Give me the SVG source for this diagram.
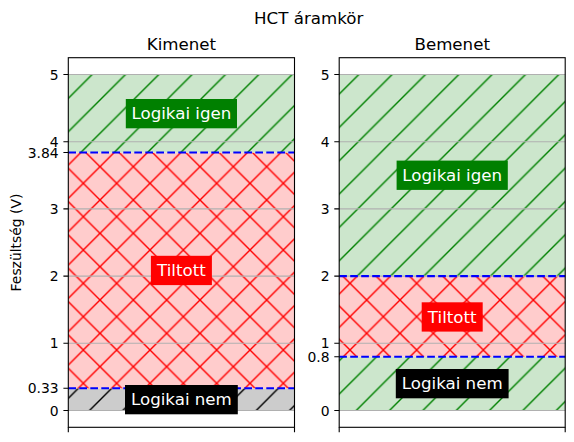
<svg xmlns="http://www.w3.org/2000/svg" width="574" height="442" viewBox="0 0 574 442">
<style>
text{font-family:"DejaVu Sans","Liberation Sans",sans-serif;fill:#000}
.tick{font-size:13.9px;text-anchor:end}
.title{font-size:16.67px;text-anchor:middle}
.lbl{font-size:16.67px;text-anchor:middle;fill:#fff}
.grid{stroke:#b0b0b0;stroke-width:1.1}
.dash{stroke:#0000ff;stroke-width:2.1;stroke-dasharray:7.7 3.3}
.spine{fill:none;stroke:#000;stroke-width:1.1}
.tk{stroke:#000;stroke-width:1.1}
</style>
<defs>
<pattern id="hg" patternUnits="userSpaceOnUse" width="33.333" height="33.333">
<path d="M-5,5L5,-5M-5,38.333L38.333,-5M28.333,38.333L38.333,28.333" stroke="#008000" stroke-width="1.4" fill="none"/>
</pattern>
<pattern id="hk" patternUnits="userSpaceOnUse" width="33.333" height="33.333">
<path d="M-5,5L5,-5M-5,38.333L38.333,-5M28.333,38.333L38.333,28.333" stroke="#000" stroke-width="1.4" fill="none"/>
</pattern>
<pattern id="hr" patternUnits="userSpaceOnUse" width="33.333" height="33.333">
<path d="M-5,5L5,-5M-5,38.333L38.333,-5M28.333,38.333L38.333,28.333M-5,-5L38.333,38.333M28.333,-5L38.333,5M-5,28.333L5,38.333" stroke="#ff0000" stroke-width="1.4" fill="none"/>
</pattern>
</defs>
<rect width="574" height="442" fill="#fff"/>
<text class="title" x="308.7" y="24">HCT áramkör</text>

<g id="kimenet">
<text class="title" x="181.4" y="50">Kimenet</text>
<g id="k-regions">
<rect x="68.3" y="388.3" width="226.2" height="22.2" fill="#cccccc"/>
<rect x="68.3" y="388.3" width="226.2" height="22.2" fill="url(#hk)"/>
<rect x="68.3" y="152.5" width="226.2" height="235.8" fill="#ffcccc"/>
<rect x="68.3" y="152.5" width="226.2" height="235.8" fill="url(#hr)"/>
<rect x="68.3" y="74.5" width="226.2" height="78" fill="#cce6cc"/>
<rect x="68.3" y="74.5" width="226.2" height="78" fill="url(#hg)"/>
</g>
<g id="k-grid">
<line class="grid" x1="68.3" x2="294.5" y1="410.5" y2="410.5"/>
<line class="grid" x1="68.3" x2="294.5" y1="343.3" y2="343.3"/>
<line class="grid" x1="68.3" x2="294.5" y1="276.1" y2="276.1"/>
<line class="grid" x1="68.3" x2="294.5" y1="208.9" y2="208.9"/>
<line class="grid" x1="68.3" x2="294.5" y1="141.7" y2="141.7"/>
<line class="grid" x1="68.3" x2="294.5" y1="74.5" y2="74.5"/>
</g>
<g id="k-thresholds">
<line class="dash" x1="68.3" x2="294.5" y1="388.3" y2="388.3"/>
<line class="dash" x1="68.3" x2="294.5" y1="152.5" y2="152.5"/>
</g>
<g id="k-igen">
<rect x="125.8" y="99" width="111.2" height="29.3" fill="#008000"/>
<text class="lbl" x="181.4" y="119.3">Logikai igen</text>
</g>
<g id="k-tiltott">
<rect x="150.9" y="255.8" width="61" height="29.3" fill="#ff0000"/>
<text class="lbl" x="181.4" y="276">Tiltott</text>
</g>
<g id="k-nem">
<rect x="125" y="385" width="112.8" height="29.3" fill="#000"/>
<text class="lbl" x="181.4" y="405.2">Logikai nem</text>
</g>
<rect class="spine" x="68.3" y="57.7" width="226.2" height="369.6"/>
<g id="k-ticks">
<path class="tk" d="M63.4,410.5H68.3M63.4,388.3H68.3M63.4,343.3H68.3M63.4,276.1H68.3M63.4,208.9H68.3M63.4,152.5H68.3M63.4,141.7H68.3M63.4,74.5H68.3M68.3,427.3V432.2M294.5,427.3V432.2"/>
<text class="tick" x="58.6" y="415.5">0</text>
<text class="tick" x="58.6" y="393.3">0.33</text>
<text class="tick" x="58.6" y="348.3">1</text>
<text class="tick" x="58.6" y="281.1">2</text>
<text class="tick" x="58.6" y="213.9">3</text>
<text class="tick" x="58.6" y="157.5">3.84</text>
<text class="tick" x="58.6" y="146.7">4</text>
<text class="tick" x="58.6" y="79.5">5</text>
</g>
<text font-size="13.9" text-anchor="middle" transform="translate(21.3,242.5) rotate(-90)">Feszültség (V)</text>
</g>

<g id="bemenet">
<text class="title" x="452.2" y="50">Bemenet</text>
<g id="b-regions">
<rect x="339.2" y="356.7" width="226" height="53.8" fill="#cce6cc"/>
<rect x="339.2" y="356.7" width="226" height="53.8" fill="url(#hg)"/>
<rect x="339.2" y="276.1" width="226" height="80.6" fill="#ffcccc"/>
<rect x="339.2" y="276.1" width="226" height="80.6" fill="url(#hr)"/>
<rect x="339.2" y="74.5" width="226" height="201.6" fill="#cce6cc"/>
<rect x="339.2" y="74.5" width="226" height="201.6" fill="url(#hg)"/>
</g>
<g id="b-grid">
<line class="grid" x1="339.2" x2="565.2" y1="410.5" y2="410.5"/>
<line class="grid" x1="339.2" x2="565.2" y1="343.3" y2="343.3"/>
<line class="grid" x1="339.2" x2="565.2" y1="276.1" y2="276.1"/>
<line class="grid" x1="339.2" x2="565.2" y1="208.9" y2="208.9"/>
<line class="grid" x1="339.2" x2="565.2" y1="141.7" y2="141.7"/>
<line class="grid" x1="339.2" x2="565.2" y1="74.5" y2="74.5"/>
</g>
<g id="b-thresholds">
<line class="dash" x1="339.2" x2="565.2" y1="356.7" y2="356.7"/>
<line class="dash" x1="339.2" x2="565.2" y1="276.1" y2="276.1"/>
</g>
<g id="b-igen">
<rect x="396.6" y="160.6" width="111.2" height="29.3" fill="#008000"/>
<text class="lbl" x="452.2" y="180.9">Logikai igen</text>
</g>
<g id="b-tiltott">
<rect x="421.7" y="302.3" width="61" height="29.3" fill="#ff0000"/>
<text class="lbl" x="452.2" y="322.5">Tiltott</text>
</g>
<g id="b-nem">
<rect x="395.8" y="369" width="112.8" height="29.3" fill="#000"/>
<text class="lbl" x="452.2" y="389.2">Logikai nem</text>
</g>
<rect class="spine" x="339.2" y="57.7" width="226" height="369.6"/>
<g id="b-ticks">
<path class="tk" d="M334.3,410.5H339.2M334.3,356.7H339.2M334.3,343.3H339.2M334.3,276.1H339.2M334.3,208.9H339.2M334.3,141.7H339.2M334.3,74.5H339.2M339.2,427.3V432.2M565.2,427.3V432.2"/>
<text class="tick" x="329.5" y="415.5">0</text>
<text class="tick" x="329.5" y="361.7">0.8</text>
<text class="tick" x="329.5" y="348.3">1</text>
<text class="tick" x="329.5" y="281.1">2</text>
<text class="tick" x="329.5" y="213.9">3</text>
<text class="tick" x="329.5" y="146.7">4</text>
<text class="tick" x="329.5" y="79.5">5</text>
</g>
</g>
</svg>
